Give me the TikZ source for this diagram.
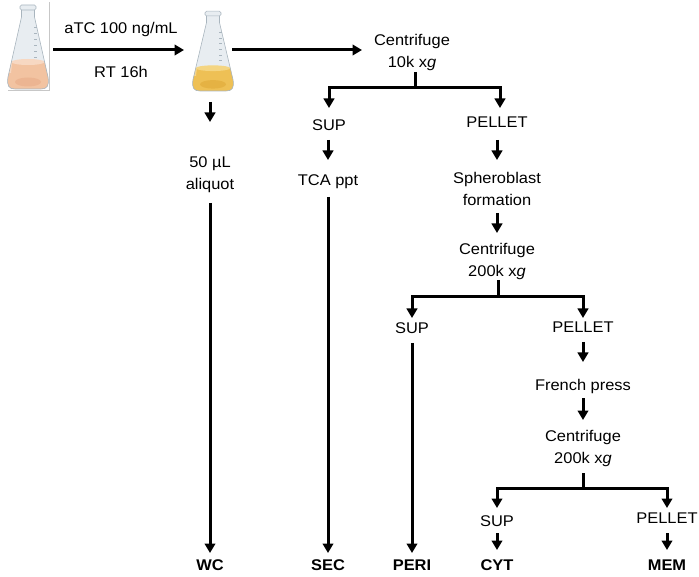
\documentclass[tikz,border=0pt]{standalone}
\usepackage{fontspec}
\setmainfont{Liberation Sans}[FakeStretch=1.06]
\usetikzlibrary{arrows.meta}

\definecolor{glass}{HTML}{E8EDF1}
\definecolor{glassline}{HTML}{A9B5BE}
\definecolor{liqA}{HTML}{F2C3A1}
\definecolor{liqAtop}{HTML}{F7D8C2}
\definecolor{liqAbot}{HTML}{ECB592}
\definecolor{liqB}{HTML}{EEC055}
\definecolor{liqBtop}{HTML}{F4D582}
\definecolor{liqBbot}{HTML}{E5B243}

% outline of an Erlenmeyer flask, origin at the bottom centre, up is negative y
\newcommand\flaskoutline{(-6.5,-80) -- (-6.5,-72) -- (-20,-12) .. controls (-21.5,-3) and (-19,0) .. (-13,0) -- (13,0) .. controls (19,0) and (21.5,-3) .. (20,-12) -- (6.5,-72) -- (6.5,-80) -- cycle}

\tikzset{
  pics/flask/.style n args={4}{code={
    % #1 liquid, #2 liquid surface, #3 liquid bottom tone, #4 liquid level
    \fill[glass] \flaskoutline;
    \begin{scope}
      \clip \flaskoutline;
      \fill[#1] (-25,-#4) rectangle (25,2);
      \fill[#3] (0,-7) ellipse [x radius=13, y radius=4.5];
      \fill[white, opacity=0.35] (-15,-70) -- (-11,-70) -- (-17,-16) -- (-20,-16) -- cycle;
    \end{scope}
    \fill[#2] (0,-#4) ellipse [x radius={6.5+(72-#4)*0.225}, y radius=3];
    \draw[glassline, line width=0.6pt] \flaskoutline;
    \filldraw[fill=glass, draw=glassline, line width=0.6pt, rounded corners=1.5pt] (-8,-84) rectangle (8,-79);
    \foreach \ty in {-62,-56,-50,-44,-38,-32}
      \draw[glassline, line width=0.5pt] (6,\ty) -- (9,\ty);
  }}
}

\begin{document}
\begin{tikzpicture}[x=1pt, y=-1pt,
  lbl/.style={font=\fontsize{15.5}{22}\selectfont, inner sep=0pt, align=center, anchor=base},
  res/.style={font=\fontsize{15.5}{22}\selectfont\bfseries, inner sep=0pt, anchor=base},
  arr/.style={line width=3pt, -{Triangle[width=10.5pt,length=9.5pt]}},
  bar/.style={line width=3pt},
  frame/.style={draw=black!22, line width=0.8pt}
]
\useasboundingbox (0,0) rectangle (699,577);

% cultures
\pic at (28,89) {flask={liqA}{liqAtop}{liqAbot}{27}};
\draw[frame] (8,90.5) -- (49,90.5) -- (49,2);
\pic[yscale=0.95] at (213,91) {flask={liqB}{liqBtop}{liqBbot}{24}};

% labels (two-line labels are placed by the baseline of their last line)
\node[lbl] (atc) at (121,33.5) {aTC 100 ng/mL};
\node[lbl] (rt) at (121,77.5) {RT 16h};
\node[lbl] (cf1) at (412,67.5) {Centrifuge\\10k x\textit{g}};
\node[lbl] (sup1) at (329,131) {SUP};
\node[lbl] (pel1) at (497,128) {PELLET};
\node[lbl] (ali) at (210,189.5) {50 µL\\aliquot};
\node[lbl] (tca) at (328,185.5) {TCA ppt};
\node[lbl] (sph) at (497,205.5) {Spheroblast\\formation};
\node[lbl] (cf2) at (497,276.5) {Centrifuge\\200k x\textit{g}};
\node[lbl] (sup2) at (412,333.5) {SUP};
\node[lbl] (pel2) at (583,332.5) {PELLET};
\node[lbl] (fp) at (583,390.5) {French press};
\node[lbl] (cf3) at (583,463.5) {Centrifuge\\200k x\textit{g}};
\node[lbl] (sup3) at (497,526.5) {SUP};
\node[lbl] (pel3) at (667,523.5) {PELLET};
\node[res] (wc) at (210,570.5) {WC};
\node[res] (sec) at (328,570.5) {SEC};
\node[res] (peri) at (412,570.5) {PERI};
\node[res] (cyt) at (497,570.5) {CYT};
\node[res] (mem) at (667,570.5) {MEM};

% connector ends
\coordinate (f1r) at (53,50);   \coordinate (f2l) at (184,50);
\coordinate (f2r) at (232,50);  \coordinate (cf1l) at (362,50);
\coordinate (f2b) at (210,102); \coordinate (alit) at (210,122);
\coordinate (alib) at (210,203); \coordinate (wct) at (210,553);
\coordinate (j1a) at (415,72);  \coordinate (j1) at (415,88);
\coordinate (sup1t) at (329,108); \coordinate (pel1t) at (500,108);
\coordinate (sup1b) at (328,140); \coordinate (tcat) at (328,160);
\coordinate (tcab) at (328,197);  \coordinate (sect) at (328,553);
\coordinate (pel1b) at (497,140); \coordinate (spht) at (497,160);
\coordinate (sphb) at (497,213);  \coordinate (cf2t) at (497,233);
\coordinate (j2a) at (498,280);   \coordinate (j2) at (498,297);
\coordinate (sup2t) at (412,318); \coordinate (pel2t) at (583,318);
\coordinate (sup2b) at (412,343); \coordinate (perit) at (412,553);
\coordinate (pel2b) at (583,342); \coordinate (fpt) at (583,362);
\coordinate (fpb) at (583,398);   \coordinate (cf3t) at (583,420);
\coordinate (j3a) at (583,473);   \coordinate (j3) at (583,488);
\coordinate (sup3t) at (497,508); \coordinate (pel3t) at (667,508);
\coordinate (sup3b) at (497,533); \coordinate (cytt) at (497,550);
\coordinate (pel3b) at (667,533); \coordinate (memt) at (667,550);

% arrows
\draw[arr] (f1r) -- (f2l);
\draw[arr] (f2r) -- (cf1l);
\draw[arr] (f2b) -- (alit);
\draw[arr] (alib) -- (wct);

\draw[bar] (j1a) -- (j1);
\draw[arr] (j1) -| (sup1t);
\draw[arr] (j1) -| (pel1t);
\draw[arr] (sup1b) -- (tcat);
\draw[arr] (tcab) -- (sect);
\draw[arr] (pel1b) -- (spht);
\draw[arr] (sphb) -- (cf2t);

\draw[bar] (j2a) -- (j2);
\draw[arr] (j2) -| (sup2t);
\draw[arr] (j2) -| (pel2t);
\draw[arr] (sup2b) -- (perit);
\draw[arr] (pel2b) -- (fpt);
\draw[arr] (fpb) -- (cf3t);

\draw[bar] (j3a) -- (j3);
\draw[arr] (j3) -| (sup3t);
\draw[arr] (j3) -| (pel3t);
\draw[arr] (sup3b) -- (cytt);
\draw[arr] (pel3b) -- (memt);
\end{tikzpicture}
\end{document}
